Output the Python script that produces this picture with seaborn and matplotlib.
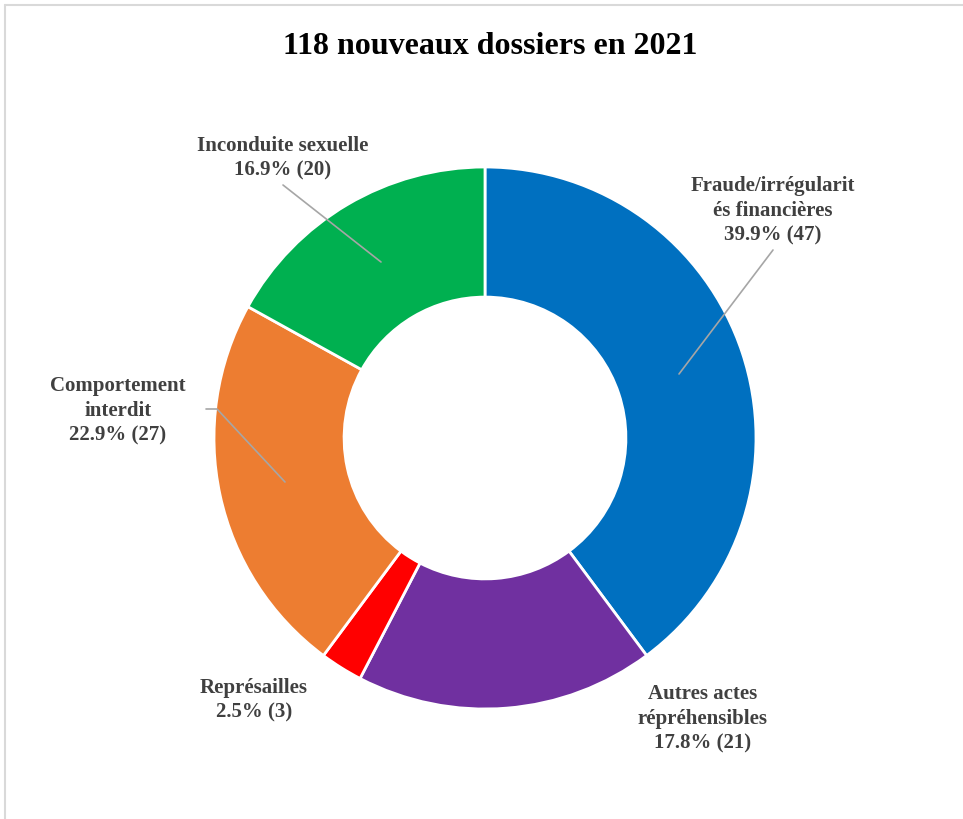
import matplotlib
matplotlib.use("Agg")
import matplotlib.pyplot as plt
import seaborn as sns
from matplotlib.lines import Line2D

sns.set_theme(style="white")
plt.rcParams['font.family'] = ['Liberation Serif', 'DejaVu Serif']

title = "118 nouveaux dossiers en 2021"
categories = ["Fraude/irrégularit\nés financières", "Autres actes\nrépréhensibles",
              "Représailles", "Comportement\ninterdit", "Inconduite sexuelle"]
counts = [47, 21, 3, 27, 20]
percents = [39.9, 17.8, 2.5, 22.9, 16.9]
colors = ["#0070C0", "#7030A0", "#FF0000", "#ED7D31", "#00B050"]

W, H = 963, 819
fig = plt.figure(figsize=(W / 100, H / 100), dpi=100)
ax = fig.add_axes([0, 0, 1, 1])

cx, cy, R = 485, 438, 271
# y axis is inverted below, so counterclock=True appears clockwise
ax.pie(counts, colors=colors, startangle=-90, counterclock=True,
       center=(cx, cy), radius=R, frame=True,
       wedgeprops=dict(width=R * 0.48, edgecolor="white", linewidth=2))
ax.set_xlim(0, W)
ax.set_ylim(H, 0)
ax.set_axis_off()
ax.set_aspect("auto")

txtc = "#404040"
lead = "#A6A6A6"
label_pos = [(773, 211), (703, 719), (254, 700), (118, 411), (283, 158)]
leaders = [
    [(773, 250), (679, 374)],
    None,
    None,
    [(206, 409), (217, 409), (285, 482)],
    [(283, 185), (381, 262)],
]
for cat, n, p, (lx, ly), ld in zip(categories, counts, percents, label_pos, leaders):
    ax.text(lx, ly, f"{cat}\n{p:.1f}% ({n})", ha="center", va="center",
            fontsize=15, fontweight="bold", color=txtc, linespacing=1.32)
    if ld:
        xs, ys = zip(*ld)
        ax.plot(xs, ys, color=lead, lw=1.2)

ax.text(490, 47, title, ha="center", va="center", fontsize=23,
        fontweight="bold", color="black")

fig.add_artist(Line2D([5 / W, 5 / W], [0, 1 - 5 / H], transform=fig.transFigure,
                      color="#D9D9D9", lw=1.5))
fig.add_artist(Line2D([5 / W, 1], [1 - 5 / H, 1 - 5 / H], transform=fig.transFigure,
                      color="#D9D9D9", lw=1.5))

fig.savefig("out.png", dpi=100, facecolor="white")
